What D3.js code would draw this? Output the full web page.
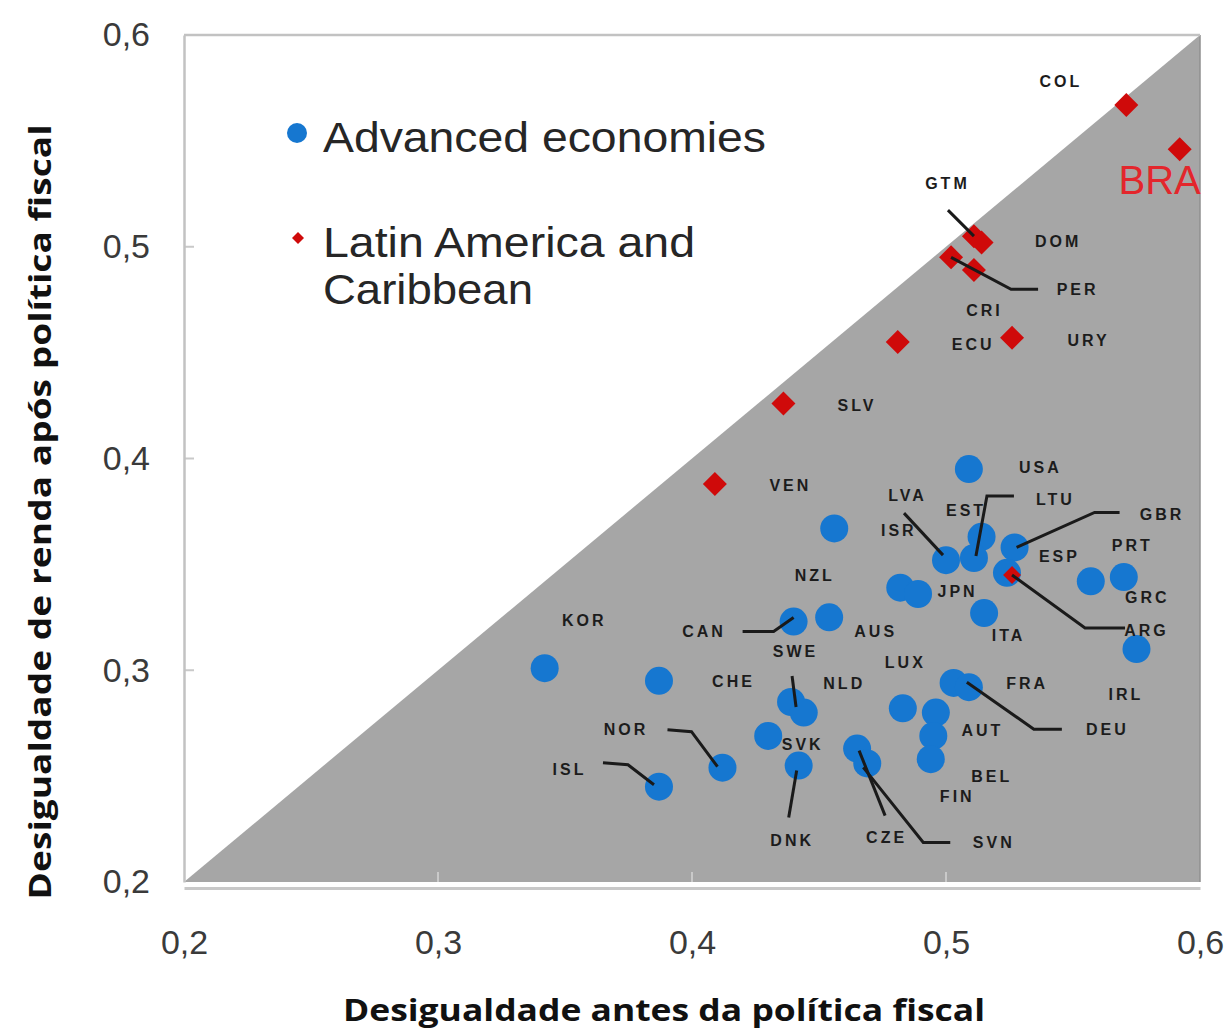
<!DOCTYPE html>
<html><head><meta charset="utf-8">
<script src="https://cdn.jsdelivr.net/npm/d3@7"></script>
<style>body{margin:0;background:#fff}svg{display:block}</style>
</head><body>
<svg id="c" width="1228" height="1029"></svg>
<script>
// ---------- DATA ----------
const seriesNames = ["Advanced economies", "Latin America and\nCaribbean"];
const advCodes  = ["USA","LVA","ISR","JPN","EST","LTU","GBR","ESP","PRT","GRC","IRL","ITA","NZL","CAN","AUS","SWE","NLD","CHE","KOR","LUX","NOR","ISL","SVK","DNK","CZE","SVN","AUT","BEL","FIN","FRA","DEU"];
const advBefore = [0.509,0.500,0.482,0.489,0.514,0.511,0.527,0.524,0.570,0.557,0.575,0.515,0.456,0.440,0.454,0.439,0.444,0.387,0.342,0.483,0.412,0.387,0.430,0.442,0.465,0.469,0.496,0.495,0.494,0.503,0.509];
const advAfter  = [0.395,0.352,0.339,0.336,0.363,0.353,0.358,0.346,0.344,0.342,0.310,0.327,0.367,0.323,0.325,0.285,0.280,0.295,0.301,0.282,0.254,0.245,0.269,0.255,0.263,0.256,0.280,0.269,0.258,0.294,0.292];
const latCodes  = ["COL","BRA","GTM","DOM","PER","CRI","ECU","URY","SLV","VEN","ARG"];
const latBefore = [0.571,0.592,0.511,0.514,0.502,0.511,0.481,0.526,0.436,0.409,0.526];
const latAfter  = [0.567,0.546,0.505,0.502,0.495,0.489,0.455,0.457,0.426,0.388,0.345];
const xTicks = [0.2,0.3,0.4,0.5,0.6];
const yTicks = [0.2,0.3,0.4,0.5,0.6];
const xTitle = "Desigualdade antes da política fiscal";
const yTitle = "Desigualdade de renda após política fiscal";

// ---------- LABEL LAYOUT (pixel offsets from the marker) ----------
const labelLayout = {
  COL:[-67,-24], BRA:[-20,30], GTM:[-28,-53,[[-26,-26],[0,0]]], DOM:[75,-1],
  PER:[125,32,[[87,32],[60,32],[0,0]]], CRI:[9,40], ECU:[74,2], URY:[75,2],
  SLV:[72,2], VEN:[74,1], ARG:[133,55,[[113,53],[73,53],[0,0]]],
  USA:[70,-2], LVA:[-40,-65,[[-42,-47],[-3,-5]]], ISR:[-3,-57], JPN:[38,-3],
  NZL:[-21,47], EST:[-17,-27], LTU:[80,-59,[[40,-62],[13,-62],[2,-2]]],
  GBR:[146,-33,[[105,-35],[80,-35],[2,0]]], ESP:[51,-17], PRT:[7,-32], GRC:[55,16],
  IRL:[-12,45], ITA:[23,22], CAN:[-91,10,[[-51,10],[-20,10],[0,-4]]], AUS:[45,14],
  SWE:[3,-51,[[1,-26],[5,5]]], NLD:[39,-29], CHE:[73,0], KOR:[38,-48], LUX:[1,-46],
  NOR:[-98,-38,[[-55,-38],[-31,-36],[-5,-1]]], ISL:[-91,-17,[[-56,-24],[-31,-22],[-5,-2]]],
  SVK:[33,8], DNK:[-8,75,[[-2,5],[-10,52]]], CZE:[28,89,[[2,2],[28,67]]],
  SVN:[125,79,[[-4,4],[56,79],[83,79]]], AUT:[45,18], BEL:[57,40], FIN:[25,37],
  FRA:[72,0], DEU:[137,42,[[-2,-5],[65,42],[93,42]]]
};

// ---------- CHART ----------
const svg = d3.select("#c");
const L = 184, R = 1200, T = 35, B = 882;
const x = d3.scaleLinear().domain([0.2,0.6]).range([L,R]);
const y = d3.scaleLinear().domain([0.2,0.6]).range([B,T]);
const loc = d3.formatLocale({decimal:",", thousands:".", grouping:[3], currency:["",""]});
const fmt = loc.format(".1f");

const GRAY = "#a6a6a6", BLUE = "#1677d0", RED = "#cf0a0a";

// shaded region below the 45° line
svg.append("path")
  .attr("d", d3.line()([[x(0.2),y(0.2)],[x(0.6),y(0.6)],[x(0.6),y(0.2)]]) + "Z")
  .attr("fill", GRAY);
svg.append("line").attr("x1",x(0.6)).attr("x2",x(0.6)).attr("y1",y(0.6)).attr("y2",y(0.2))
  .attr("stroke","#8f8f8f").attr("stroke-width",1.5);

// top border
svg.append("line").attr("x1",L).attr("x2",R).attr("y1",T).attr("y2",T)
  .attr("stroke","#c2c2c2").attr("stroke-width",2.5);

// inner faint ticks
svg.append("g").selectAll("line").data(xTicks.slice(1,-1)).join("line")
  .attr("x1",d=>x(d)).attr("x2",d=>x(d)).attr("y1",B).attr("y2",B-10)
  .attr("stroke","#c9c9c9").attr("stroke-width",2);
svg.append("g").selectAll("line").data(yTicks.slice(1,-1)).join("line")
  .attr("x1",L).attr("x2",L+10).attr("y1",d=>y(d)).attr("y2",d=>y(d))
  .attr("stroke","#c9c9c9").attr("stroke-width",2);

// axes
const gx = svg.append("g").attr("transform",`translate(0,${B+6})`)
  .call(d3.axisBottom(x).tickValues(xTicks).tickFormat(fmt).tickSize(0).tickPadding(42));
const gy = svg.append("g").attr("transform",`translate(${L},0)`)
  .call(d3.axisLeft(y).tickValues(yTicks).tickFormat(fmt).tickSize(0).tickPadding(34));
gx.select(".domain").attr("stroke","#c8c8c8").attr("stroke-width",3);
gy.select(".domain").attr("stroke","#c2c2c2").attr("stroke-width",2.5);
svg.selectAll(".tick text")
  .attr("font-family","'Liberation Sans', Arial, sans-serif")
  .attr("font-size",34).attr("fill","#3a3a3a");

// axis titles
svg.append("text").attr("x",(L+R)/2 - 28).attr("y",1021)
  .attr("text-anchor","middle")
  .attr("font-family","'Open Sans', sans-serif").attr("font-weight",700)
  .attr("font-size",30).attr("fill","#111")
  .attr("textLength",642).attr("lengthAdjust","spacingAndGlyphs")
  .text(xTitle);
svg.append("text").attr("transform","translate(51,512) rotate(-90)")
  .attr("text-anchor","middle")
  .attr("font-family","'Open Sans', sans-serif").attr("font-weight",700)
  .attr("font-size",30).attr("fill","#111")
  .attr("textLength",775).attr("lengthAdjust","spacingAndGlyphs")
  .text(yTitle);

// data
const adv = advCodes.map((c,i)=>({code:c, bx:advBefore[i], ay:advAfter[i]}));
const lat = latCodes.map((c,i)=>({code:c, bx:latBefore[i], ay:latAfter[i]}));
const diamond = (cx,cy,r)=>`M${cx},${cy-r}L${cx+r},${cy}L${cx},${cy+r}L${cx-r},${cy}Z`;

svg.append("g").selectAll("circle").data(adv).join("circle")
  .attr("cx",d=>x(d.bx)).attr("cy",d=>y(d.ay)).attr("r",14)
  .attr("fill",BLUE);
svg.append("g").selectAll("path").data(lat).join("path")
  .attr("d",d=>diamond(x(d.bx),y(d.ay), d.code==="ARG"?9:12))
  .attr("fill",RED);

// leaders and labels
const all = adv.concat(lat);
const lineGen = d3.line();
svg.append("g").selectAll("path").data(all.filter(d=>labelLayout[d.code] && labelLayout[d.code][2])).join("path")
  .attr("d",d=>lineGen(labelLayout[d.code][2].map(o=>[x(d.bx)+o[0], y(d.ay)+o[1]])))
  .attr("fill","none").attr("stroke","#1a1a1a").attr("stroke-width",3);

svg.append("g").selectAll("text").data(all.filter(d=>d.code!=="BRA")).join("text")
  .attr("x",d=>x(d.bx)+labelLayout[d.code][0]+1.5)
  .attr("y",d=>y(d.ay)+labelLayout[d.code][1])
  .attr("dy","0.36em").attr("text-anchor","middle")
  .attr("font-family","'Liberation Sans', Arial, sans-serif").attr("font-weight",700)
  .attr("font-size",16).attr("letter-spacing",3).attr("fill","#1c1c1c")
  .text(d=>d.code);

const bra = lat.find(d=>d.code==="BRA");
svg.append("text")
  .attr("x",x(bra.bx)+labelLayout.BRA[0]).attr("y",y(bra.ay)+labelLayout.BRA[1])
  .attr("dy","0.36em").attr("text-anchor","middle")
  .attr("font-family","'Liberation Sans', Arial, sans-serif")
  .attr("font-size",40).attr("fill","#e3262c").text("BRA");

// legend
const lg = svg.append("g").attr("font-family","'Liberation Sans', Arial, sans-serif")
  .attr("font-size",42).attr("fill","#262626");
lg.append("circle").attr("cx",297).attr("cy",133).attr("r",10).attr("fill",BLUE);
lg.append("text").attr("x",323).attr("y",152)
  .attr("textLength",443).attr("lengthAdjust","spacingAndGlyphs").text(seriesNames[0]);
lg.append("path").attr("d",diamond(298,238,6)).attr("fill",RED);
const legLines = seriesNames[1].split("\n");
const legWidths = [372, 210];
legLines.forEach((t,i)=>
  lg.append("text").attr("x",323).attr("y",257 + i*47)
    .attr("textLength",legWidths[i]).attr("lengthAdjust","spacingAndGlyphs").text(t));
</script>
</body></html>
